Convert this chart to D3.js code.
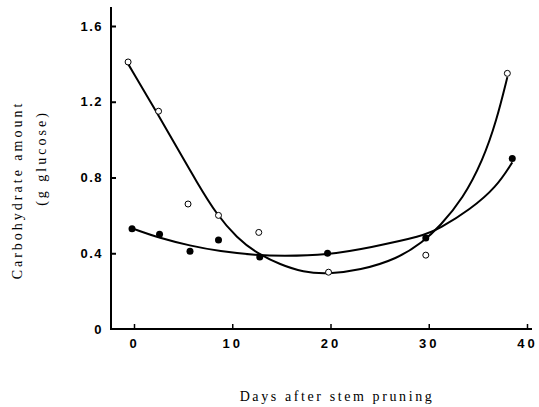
<!DOCTYPE html>
<html>
<head>
<meta charset="utf-8">
<script src="https://cdn.jsdelivr.net/npm/d3@7"></script>
<style>
  body { margin: 0; background: #fff; }
  svg { display: block; }
</style>
</head>
<body>
<div class="chart"></div>
<script>
// measured points: open circles and filled circles (day, g glucose)
const openDays = [-0.6, 2.5, 5.5, 8.6, 12.7, 19.8, 29.7, 38.0];
const openVals = [1.41, 1.15, 0.66, 0.60, 0.51, 0.30, 0.39, 1.35];
const filledDays = [-0.2, 2.6, 5.7, 8.6, 12.8, 19.7, 29.7, 38.5];
const filledVals = [0.53, 0.50, 0.41, 0.47, 0.38, 0.40, 0.48, 0.90];

// fitted curves
const openCurveDays = [-0.6, 2.3, 4.4, 6.4, 8.4, 10.5, 12.5, 14.9, 17.2, 19.7, 23.0, 26.8, 29.4, 31.1, 33.5, 35.5, 36.9, 38.0];
const openCurveVals = [1.40, 1.145, 0.955, 0.775, 0.605, 0.48, 0.40, 0.34, 0.30, 0.29, 0.31, 0.37, 0.46, 0.54, 0.69, 0.89, 1.10, 1.33];
const filledCurveDays = [-0.1, 2.6, 5.7, 8.7, 12.5, 15.0, 19.7, 24.0, 29.4, 31.1, 34.2, 36.9, 38.5];
const filledCurveVals = [0.53, 0.48, 0.44, 0.41, 0.39, 0.385, 0.39, 0.43, 0.49, 0.53, 0.63, 0.75, 0.88];

const xTicks = [0, 10, 20, 30, 40];
const yTicks = [0, 0.4, 0.8, 1.2, 1.6];

const width = 539, height = 407;

const svg = d3.select('.chart')
    .append('svg')
    .attr('width', width)
    .attr('height', height);

const x = d3.scaleLinear().domain([0, 40]).range([134, 527]);
const y = d3.scaleLinear().domain([0, 1.6]).range([329, 26]);

const xLeft = 111, xRight = 532;

// axis lines
svg.append('line')
    .attr('x1', xLeft).attr('x2', xLeft)
    .attr('y1', y(0)).attr('y2', y(1.7))
    .attr('stroke', '#000').attr('stroke-width', 2);
svg.append('line')
    .attr('x1', xLeft - 1).attr('x2', xRight)
    .attr('y1', y(0)).attr('y2', y(0))
    .attr('stroke', '#000').attr('stroke-width', 2);

const yAxis = svg.append('g')
    .attr('transform', `translate(${xLeft},0)`)
    .call(d3.axisLeft(y).tickValues(yTicks).tickSizeInner(-5).tickSizeOuter(0).tickPadding(8)
        .tickFormat(d => d === 0 ? '0' : d3.format('.1f')(d)));
yAxis.select('.domain').remove();
yAxis.selectAll('.tick line').attr('stroke-width', 2).filter(d => d === 0).remove();
yAxis.selectAll('.tick text')
    .attr('font-family', 'Liberation Sans, Arial, sans-serif')
    .attr('font-weight', 'bold')
    .attr('font-size', 13)
    .attr('letter-spacing', 1.5)
    .attr('fill', '#000');

const xAxis = svg.append('g')
    .attr('transform', `translate(0,${y(0)})`)
    .call(d3.axisBottom(x).tickValues(xTicks).tickSizeInner(-5).tickSizeOuter(0).tickPadding(10));
xAxis.select('.domain').remove();
xAxis.selectAll('.tick line').attr('stroke-width', 1.5);
xAxis.selectAll('.tick text')
    .attr('font-family', 'Liberation Sans, Arial, sans-serif')
    .attr('font-weight', 'bold')
    .attr('font-size', 13)
    .attr('letter-spacing', 3)
    .attr('fill', '#000');

// curves (smoothed through the traced points)
const line = d3.line()
    .x(d => x(d[0]))
    .y(d => y(d[1]))
    .curve(d3.curveBasis);

svg.append('path')
    .datum(openCurveDays.map((d, i) => [d, openCurveVals[i]]))
    .attr('d', line)
    .attr('fill', 'none')
    .attr('stroke', '#000')
    .attr('stroke-width', 2);

svg.append('path')
    .datum(filledCurveDays.map((d, i) => [d, filledCurveVals[i]]))
    .attr('d', line)
    .attr('fill', 'none')
    .attr('stroke', '#000')
    .attr('stroke-width', 2);

// points
svg.selectAll('circle.open')
    .data(openDays.map((d, i) => [d, openVals[i]]))
    .join('circle')
    .attr('class', 'open')
    .attr('cx', d => x(d[0]))
    .attr('cy', d => y(d[1]))
    .attr('r', 3)
    .attr('fill', '#fff')
    .attr('stroke', '#000')
    .attr('stroke-width', 1);

svg.selectAll('circle.filled')
    .data(filledDays.map((d, i) => [d, filledVals[i]]))
    .join('circle')
    .attr('class', 'filled')
    .attr('cx', d => x(d[0]))
    .attr('cy', d => y(d[1]))
    .attr('r', 3.5)
    .attr('fill', '#000');

// axis titles
const serif = 'Liberation Serif, Times New Roman, serif';
svg.append('text')
    .attr('transform', 'translate(22,190) rotate(-90)')
    .attr('text-anchor', 'middle')
    .attr('font-family', serif)
    .attr('font-size', 14)
    .attr('letter-spacing', 3)
    .text('Carbohydrate amount');

svg.append('text')
    .attr('transform', 'translate(46,158) rotate(-90)')
    .attr('text-anchor', 'middle')
    .attr('font-family', serif)
    .attr('font-size', 14)
    .attr('letter-spacing', 3)
    .text('(g glucose)');

svg.append('text')
    .attr('x', 337)
    .attr('y', 401)
    .attr('text-anchor', 'middle')
    .attr('font-family', serif)
    .attr('font-size', 14)
    .attr('letter-spacing', 2.6)
    .text('Days after stem pruning');
</script>
</body>
</html>
